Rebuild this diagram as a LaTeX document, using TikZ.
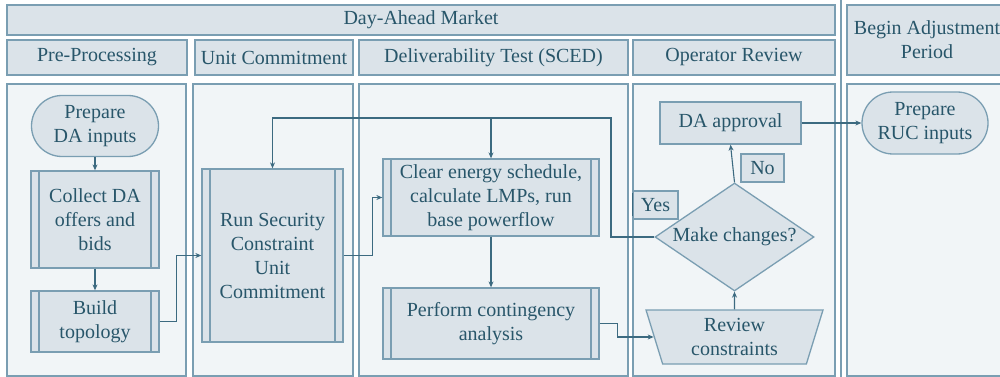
\documentclass[tikz,border=0pt]{standalone}
\usepackage{fontspec}
\setmainfont{Liberation Serif}
\usetikzlibrary{shapes.geometric,shapes.misc,arrows.meta}

\definecolor{edgecol}{RGB}{122,158,178}
\definecolor{boxfill}{RGB}{219,227,233}
\definecolor{lanefill}{RGB}{241,245,247}
\definecolor{txtcol}{RGB}{40,86,106}
\definecolor{linecol}{RGB}{60,106,128}

\tikzset{
  x=1pt, y=-1pt,
  every node/.style={font=\fontsize{20}{24}\selectfont, text=txtcol, align=center, inner sep=0pt},
  header/.style={draw=edgecol, fill=boxfill, line width=1.3pt},
  lane/.style={draw=edgecol, fill=lanefill, line width=1.3pt},
  shapebox/.style={draw=edgecol, fill=boxfill, line width=1.3pt},
  procbox/.style={shapebox, rectangle,
    path picture={
      \draw[edgecol, line width=1.3pt]
        ([xshift=8pt]path picture bounding box.north west) -- ([xshift=8pt]path picture bounding box.south west)
        ([xshift=-8pt]path picture bounding box.north east) -- ([xshift=-8pt]path picture bounding box.south east);
    }},
  terminal/.style={shapebox, rounded rectangle},
  conn/.style={draw=linecol, line width=1.1pt, -{Stealth[length=6pt,width=5pt]}},
  plainconn/.style={draw=linecol, line width=1.1pt},
}

\begin{document}
\begin{tikzpicture}
\clip (0,0) rectangle (1000,377);
\fill[white] (0,0) rectangle (1000,377);

% header bars
\node[header, minimum width=828pt, minimum height=30pt] (dam) at (421,20) {Day-Ahead Market};
\node[header, minimum width=163pt, minimum height=70pt] (bap) at (928.5,40) {};
\node (baptext) at (927,40) {Begin Adjustment\\Period};
\node[header, minimum width=180pt, minimum height=35pt] (hpre) at (97,57.5) {Pre-Processing};
\node[header, minimum width=158pt, minimum height=35pt] (huc) at (274,57.5) {Unit Commitment};
\node[header, minimum width=269pt, minimum height=35pt] (hdt) at (493.5,57.5) {Deliverability Test (SCED)};
\node[header, minimum width=202pt, minimum height=35pt] (hor) at (734,57.5) {Operator Review};

% separator between the two periods
\draw[edgecol, line width=1.8pt] (841,0) -- (841,377);

% swim lanes
\node[lane, minimum width=179pt, minimum height=292pt] (l1) at (96.5,230) {};
\node[lane, minimum width=160pt, minimum height=292pt] (l2) at (273,230) {};
\node[lane, minimum width=269pt, minimum height=292pt] (l3) at (493.5,230) {};
\node[lane, minimum width=202pt, minimum height=292pt] (l4) at (734,230) {};
\node[lane, minimum width=163pt, minimum height=292pt] (l5) at (928.5,230) {};

% flow chart nodes
\node[terminal, minimum width=127pt, minimum height=61pt] (pda) at (95,126) {Prepare\\DA inputs};
\node[procbox, minimum width=128pt, minimum height=97pt] (collect) at (95,219.5) {Collect DA\\offers and\\bids};
\node[procbox, minimum width=128pt, minimum height=61pt] (build) at (95,321.5) {Build\\topology};
\node[procbox, minimum width=141pt, minimum height=173pt] (rscuc) at (272.5,255.5) {Run Security\\Constraint\\Unit\\Commitment};
\node[procbox, minimum width=216pt, minimum height=77pt] (clear) at (491,197.5) {Clear energy schedule,\\calculate LMPs, run\\base powerflow};
\node[procbox, minimum width=216pt, minimum height=71pt] (perform) at (491,323.5) {Perform contingency\\analysis};
\node[shapebox, minimum width=141pt, minimum height=42pt] (daapp) at (730.5,123) {DA approval};
\node[shapebox, minimum width=43pt, minimum height=28pt] (no) at (762.5,168) {No};
\node[shapebox, minimum width=45pt, minimum height=28pt] (yes) at (655.5,205) {Yes};
\draw[linecol, line width=1.6pt] ([yshift=-3pt]yes.north west) -- ([yshift=4pt]yes.south west);
\node[shapebox, diamond, minimum width=159pt, minimum height=108pt] (dia) at (734.5,237) {\makebox[0pt]{Make changes?}};
\node[shapebox, trapezium, trapezium left angle=105, trapezium right angle=105, trapezium stretches=true,
      minimum width=177pt, minimum height=54pt] (review) at (734.5,337) {Review\\constraints};
\node[terminal, minimum width=126pt, minimum height=62pt] (ruc) at (925,123) {Prepare\\RUC inputs};

% connectors
\coordinate (loopR) at (611,118);
\draw[conn] (pda.south) -- (collect.north);
\draw[conn] (collect.south) -- (build.north);
\draw[conn] (build.east) -- ++(17,0) |- (rscuc.west);
\draw[conn] (rscuc.east) -- ++(29,0) |- (clear.west);
\draw[conn] (dia.west) -| (loopR) -| (rscuc.north);
\draw[conn] (clear.north |- loopR) -- (clear.north);
\draw[conn] (clear.south) -- (perform.north);
\draw[conn] (perform.east) -- ++(18,0) |- (review.west);
\draw[conn] (review.north) -- (dia.south);
\draw[conn] (dia.north) -- (daapp.south);
\draw[conn] (daapp.east) -- (ruc.west);
\end{tikzpicture}
\end{document}
